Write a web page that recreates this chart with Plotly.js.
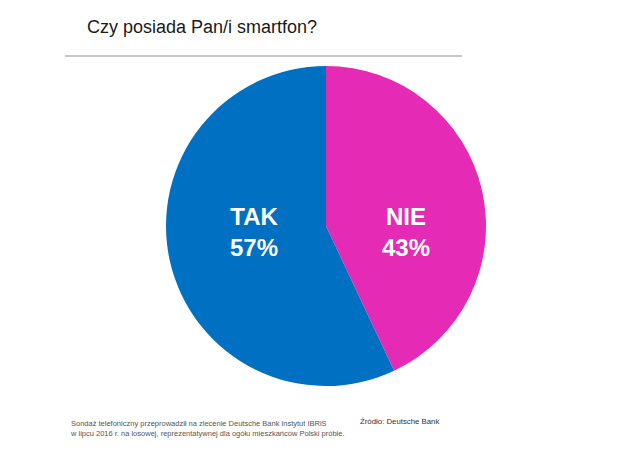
<!DOCTYPE html>
<html><head><meta charset="utf-8">
<script src="https://cdn.plot.ly/plotly-3.0.1.min.js"></script>
<style>html,body{margin:0;padding:0;background:#fff}#chart{width:640px;height:461px}</style>
</head><body><div id="chart"></div>
<script>
const labels = ["NIE", "TAK"];
const values = [43, 57];
const colors = ["#e52ab5", "#0070c2"];
const titleText = "Czy posiada Pan/i smartfon?";
const noteLines = ["Sondaż telefoniczny przeprowadził na zlecenie Deutsche Bank instytut IBRiS",
                   "w lipcu 2016 r. na losowej, reprezentatywnej dla ogółu mieszkańców Polski próbie."];
const sourceText = "Źródło: Deutsche Bank";

const W = 640, H = 461;
const cx = 326, cy = 226, r = 160;

const trace = {
  type: "pie",
  labels: labels,
  values: values,
  sort: false,
  direction: "clockwise",
  rotation: 0,
  marker: {colors: colors, line: {width: 0}},
  textinfo: "none",
  hoverinfo: "label+percent",
  domain: {x: [(cx - r) / W, (cx + r) / W], y: [1 - (cy + r) / H, 1 - (cy - r) / H]},
  showlegend: false
};

const labelPos = {NIE: [406, 232], TAK: [254, 232]};
const annotations = labels.map((l, i) => ({
  xref: "paper", yref: "paper",
  x: labelPos[l][0] / W, y: 1 - labelPos[l][1] / H,
  xanchor: "center", yanchor: "middle",
  text: "<b>" + l + "<br>" + values[i] + "%</b>",
  showarrow: false,
  font: {family: "Liberation Sans, Arial, sans-serif", size: 24, color: "#ffffff"}
}));
annotations.push({
  xref: "paper", yref: "paper", x: 85 / W, y: 1 - 27 / H,
  xanchor: "left", yanchor: "middle", showarrow: false,
  text: titleText,
  font: {family: "Liberation Sans, Arial, sans-serif", size: 18, color: "#1a1a1a"}
});
annotations.push({
  xref: "paper", yref: "paper", x: 68 / W, y: 1 - 428 / H,
  xanchor: "left", yanchor: "middle", align: "left", showarrow: false,
  text: noteLines.join("<br>"),
  font: {family: "Liberation Sans, Arial, sans-serif", size: 7.5, color: "#555555"}
});
annotations.push({
  xref: "paper", yref: "paper", x: 358 / W, y: 1 - 421 / H,
  xanchor: "left", yanchor: "middle", showarrow: false,
  text: sourceText,
  font: {family: "Liberation Sans, Arial, sans-serif", size: 7.8, color: "#333333"}
});

const layout = {
  width: W, height: H,
  margin: {l: 0, r: 0, t: 0, b: 0},
  paper_bgcolor: "#ffffff",
  annotations: annotations,
  shapes: [{type: "line", xref: "paper", yref: "paper",
            x0: 65 / W, x1: 462 / W, y0: 1 - 56 / H, y1: 1 - 56 / H,
            line: {color: "#b5b5b5", width: 1.5}}]
};

Plotly.newPlot("chart", [trace], layout, {displayModeBar: false, staticPlot: true});
</script></body></html>
